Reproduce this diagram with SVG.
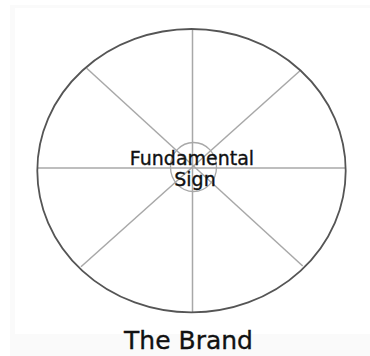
<svg xmlns="http://www.w3.org/2000/svg" width="370" height="356" viewBox="0 0 370 356">
<style>
.spoke{stroke:#a8a8a8;stroke-width:1.5;fill:none}
.rim{stroke:#555;stroke-width:1.8;fill:none}
.lbl{font-family:"DejaVu Sans",Verdana,sans-serif;fill:#111;stroke:#111;stroke-width:0.35;text-anchor:middle}
</style>
<rect x="0" y="0" width="370" height="356" fill="#ffffff"/>
<rect x="10" y="5" width="360" height="351" fill="#fafafa"/>
<rect x="15" y="8" width="355" height="326" fill="#ffffff"/>
<g id="connectors">
<line class="spoke" x1="192.5" y1="29" x2="192.5" y2="312.5"/>
<line class="spoke" x1="37.3" y1="168" x2="345.7" y2="168"/>
<line class="spoke" x1="86.7" y1="68.3" x2="302.7" y2="266"/>
<line class="spoke" x1="300" y1="70.7" x2="81" y2="266.7"/>
</g>
<g id="brand">
<ellipse class="rim" cx="191.5" cy="170.7" rx="154.2" ry="141.7"/>
<text class="lbl" x="188.5" y="349" font-size="25">The Brand</text>
</g>
<g id="fundamental-sign">
<ellipse cx="193.5" cy="167" rx="23" ry="24.5" fill="none" stroke="#a8a8a8" stroke-width="1.3"/>
<text class="lbl" x="192" y="164.5" font-size="19">Fundamental</text>
<text class="lbl" x="195" y="185.5" font-size="19">Sign</text>
</g>
</svg>
